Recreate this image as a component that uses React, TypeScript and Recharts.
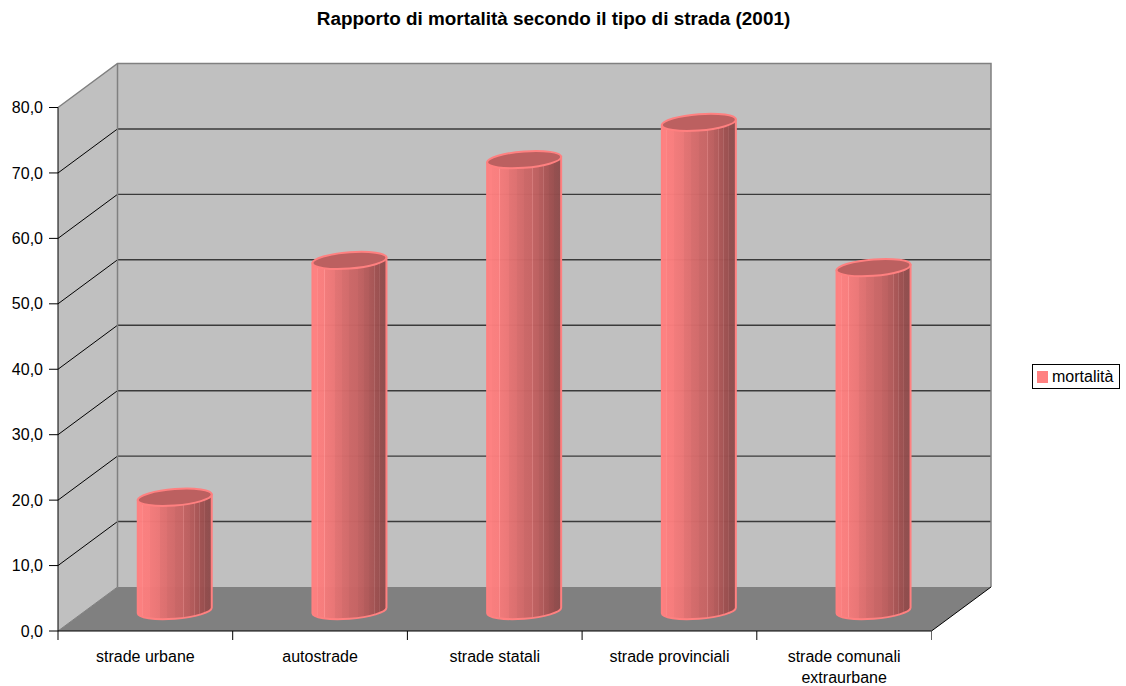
import React from "react";
import { BarChart, Bar, XAxis, YAxis, Legend, usePlotArea } from "recharts";

// Road types and their mortality ratio, 2001
const categories = [
  "strade urbane",
  "autostrade",
  "strade statali",
  "strade provinciali",
  "strade comunali\nextraurbane",
];
const mortalita = [17.3, 53.5, 68.9, 74.6, 52.4];
const yTicks = [0, 10, 20, 30, 40, 50, 60, 70, 80];
const seriesName = "mortalità";
const titleText = "Rapporto di mortalità secondo il tipo di strada (2001)";

const rows = categories.map((name, i) => ({ name, mortalita: mortalita[i] }));

const FONT = "'Liberation Sans', Arial, sans-serif";
const PINK = "#FF8080";
const DEPTH_X = 59.5;
const DEPTH_Y = 44;
const CYLINDER_LIFT = 20.5;
const Y_MAX = 80;

// Walls, floor and gridlines of the 3D box, drawn behind the cylinders
function Box3D() {
  const p = usePlotArea();
  if (!p) return null;
  const l = p.x;
  const r = p.x + p.width;
  const t = p.y;
  const b = p.y + p.height;
  const yOf = (v: number) => b - (v / Y_MAX) * p.height;
  return (
    <g>
      <text x={553.5} y={25} textAnchor="middle" fontFamily={FONT} fontWeight="bold" fontSize={18.9} fill="#000">
        {titleText}
      </text>
      <polygon points={`${l + DEPTH_X},${t - DEPTH_Y} ${r + DEPTH_X},${t - DEPTH_Y} ${r + DEPTH_X},${b - DEPTH_Y} ${l + DEPTH_X},${b - DEPTH_Y}`} fill="#C0C0C0" />
      <polygon points={`${l},${t} ${l + DEPTH_X},${t - DEPTH_Y} ${l + DEPTH_X},${b - DEPTH_Y} ${l},${b}`} fill="#C0C0C0" />
      <polygon points={`${l},${b} ${l + DEPTH_X},${b - DEPTH_Y} ${r + DEPTH_X},${b - DEPTH_Y} ${r},${b}`} fill="#808080" />
      {yTicks.slice(1, -1).map((v) => (
        <g key={v}>
          <line x1={l} y1={yOf(v)} x2={l + DEPTH_X} y2={yOf(v) - DEPTH_Y} stroke="#000" strokeWidth={1} />
          <line x1={l + DEPTH_X} y1={yOf(v) - DEPTH_Y} x2={r + DEPTH_X} y2={yOf(v) - DEPTH_Y} stroke="#3a3a3a" strokeWidth={1.4} />
        </g>
      ))}
      <polyline points={`${l},${t} ${l + DEPTH_X},${t - DEPTH_Y} ${r + DEPTH_X},${t - DEPTH_Y} ${r + DEPTH_X},${b - DEPTH_Y}`} fill="none" stroke="#808080" strokeWidth={1.5} />
      <line x1={l + DEPTH_X} y1={t - DEPTH_Y} x2={l + DEPTH_X} y2={b - DEPTH_Y} stroke="#808080" strokeWidth={1.5} />
      <line x1={r} y1={b} x2={r + DEPTH_X} y2={b - DEPTH_Y} stroke="#000" strokeWidth={1} />
      <line x1={l} y1={b} x2={l + DEPTH_X} y2={b - DEPTH_Y} stroke="#808080" strokeWidth={1} />
      {categories.map((_, i) => (
        <line key={i} x1={l + (i * p.width) / categories.length} y1={b} x2={l + (i * p.width) / categories.length} y2={b + 9} stroke="#000" strokeWidth={1} />
      ))}
      <line x1={r} y1={b} x2={r} y2={b + 9} stroke="#666" strokeWidth={1} />
    </g>
  );
}

// One cylinder: a bar rect turned into a sheared body with an elliptical cap
function Cylinder(props: any) {
  const { x, y, width, height } = props;
  const a = width / 2;
  const cx = x + a + DEPTH_X / 2;
  const top = y - CYLINDER_LIFT;
  const bottom = y + height - CYLINDER_LIFT;
  const ry = 8.2;
  return (
    <g transform={`translate(${cx},0) matrix(1,-0.075,0,1,0,0)`}>
      <path
        d={`M${-a},${top} L${-a},${bottom} A${a},${ry} 0 0 0 ${a},${bottom} L${a},${top} Z`}
        fill="url(#cylinderBody)"
        fillOpacity={0.97}
        stroke={PINK}
        strokeWidth={2}
      />
      <ellipse cx={0} cy={top} rx={a} ry={ry} fill="#BC6060" stroke={PINK} strokeWidth={2} />
    </g>
  );
}

function CategoryTick(props: any) {
  const { x, y, payload } = props;
  const lines = String(payload.value).split("\n");
  return (
    <text textAnchor="middle" fontFamily={FONT} fontSize={16} fill="#000">
      {lines.map((line: string, i: number) => (
        <tspan key={i} x={x} y={y + 23 + i * 21}>
          {line}
        </tspan>
      ))}
    </text>
  );
}

function LegendBox() {
  return (
    <div style={{ boxSizing: "border-box", width: 88, height: 25, border: "1px solid #000", background: "#fff", display: "flex", alignItems: "center", paddingLeft: 4, fontFamily: FONT, fontSize: 16, color: "#000", lineHeight: 1 }}>
      <span style={{ width: 11, height: 12, background: PINK, marginRight: 4, flex: "none" }} />
      <span>{seriesName}</span>
    </div>
  );
}

// Stepped horizontal shading of the cylinder body, light on the left
const bodyStops: [number, string][] = [
  [0, "#FF8080"], [0.06, "#FF8080"], [0.06, "#FF8888"], [0.07, "#FF8888"], [0.07, "#FC7E7E"],
  [0.16, "#FA7D7D"], [0.16, "#FF8E8E"], [0.17, "#FF8E8E"], [0.17, "#F47A7A"], [0.3, "#EC7676"],
  [0.3, "#E47272"], [0.4, "#DE6F6F"], [0.4, "#D86C6C"], [0.5, "#D26969"], [0.5, "#CC6666"],
  [0.61, "#C86464"], [0.61, "#D67878"], [0.62, "#D67878"], [0.62, "#C26161"], [0.7, "#BC5E5E"],
  [0.7, "#B65B5B"], [0.76, "#B25959"], [0.76, "#BE6A6A"], [0.77, "#BE6A6A"], [0.77, "#AC5656"],
  [0.83, "#A65353"], [0.83, "#B06464"], [0.84, "#B06464"], [0.84, "#A05050"], [0.9, "#9A4E4E"],
  [0.9, "#A45A5A"], [0.91, "#A45A5A"], [0.91, "#944C4C"], [1, "#8C4C4C"],
];

export default function App() {
  return (
    <div style={{ position: "absolute", left: 0, top: 0, width: 1126, height: 686, background: "#fff" }}>
      <BarChart
        width={1126}
        height={686}
        data={rows}
        barSize={74}
        margin={{ top: 107.5, right: 194.5, bottom: 15, left: 8 }}
      >
        <defs>
          <linearGradient id="cylinderBody" x1="0" x2="1" y1="0" y2="0">
            {bodyStops.map(([o, c], i) => (
              <stop key={i} offset={o} stopColor={c} />
            ))}
          </linearGradient>
        </defs>
        <Box3D />
        <XAxis
          dataKey="name"
          interval={0}
          height={40}
          tickLine={false}
          axisLine={{ stroke: "#000", strokeWidth: 1 }}
          tick={<CategoryTick />}
        />
        <YAxis
          width={50}
          domain={[0, Y_MAX]}
          ticks={yTicks}
          interval={0}
          tickSize={9}
          tickMargin={6}
          tickFormatter={(v: number) => v.toFixed(1).replace(".", ",")}
          tick={{ fontFamily: FONT, fontSize: 16, fill: "#000" }}
          axisLine={{ stroke: "#000", strokeWidth: 1 }}
          tickLine={{ stroke: "#000", strokeWidth: 1 }}
        />
        <Legend
          layout="horizontal"
          align="center"
          verticalAlign="middle"
          wrapperStyle={{ left: 1032, top: 364, width: 88, height: 25 }}
          content={<LegendBox />}
        />
        <Bar dataKey="mortalita" name={seriesName} fill={PINK} isAnimationActive={false} shape={<Cylinder />} />
      </BarChart>
    </div>
  );
}
